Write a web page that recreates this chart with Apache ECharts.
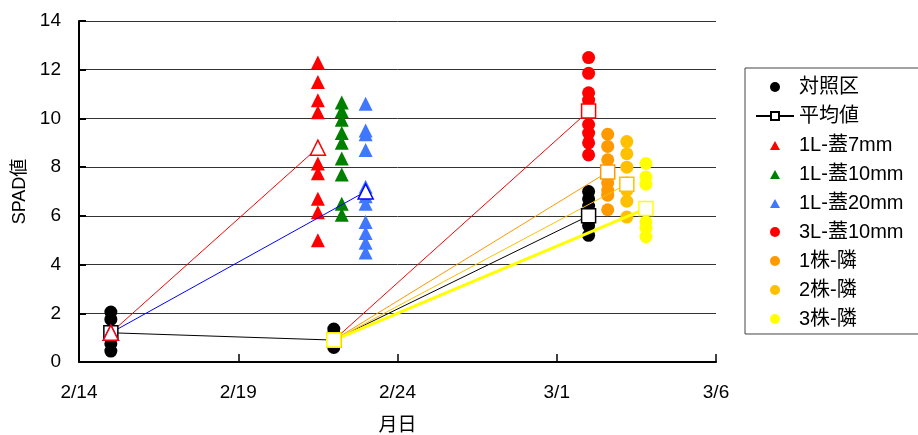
<!DOCTYPE html>
<html><head><meta charset="utf-8">
<script src="https://cdn.jsdelivr.net/npm/echarts@6/dist/echarts.min.js"></script>
<style>html,body{margin:0;padding:0;background:#fff}#c{width:918px;height:435px}</style>
</head><body><div id="c"></div>
<script>
// ---- data (x = days since 2/14) ----
const tickLabels = ['2/14', '2/19', '2/24', '3/1', '3/6'];
const controlDays = [1, 8, 16];
const controlValues = [
  [2.05, 1.75, 1.3, 1.1, 0.75, 0.45],
  [1.35, 1.2, 1.05, 0.85, 0.7, 0.6],
  [7.0, 6.7, 6.4, 6.0, 5.6, 5.2]
];
const meanDays = [1, 8, 16];
const meanValues = [1.2, 0.9, 6.0];

const tri7Day = 7.5;
const tri7Values = [12.3, 11.5, 10.75, 10.25, 8.15, 7.75, 6.7, 6.15, 5.0];
const tri7Mean = 8.8;
const tri10Day = 8.25;
const tri10Values = [10.65, 10.3, 9.95, 9.4, 9.0, 8.35, 7.7, 6.5, 6.05];
const tri20Day = 9.0;
const tri20Values = [10.6, 9.5, 9.35, 8.7, 7.2, 7.0, 6.8, 6.5, 5.75, 5.3, 4.9, 4.5];
const tri20Mean = 7.0;
const cir3LDay = 16;
const cir3LValues = [12.5, 11.85, 11.05, 10.75, 9.75, 9.4, 9.0, 8.5];
const cir3LMean = 10.3;
const kabu1Day = 16.6;
const kabu1Values = [9.35, 8.85, 8.3, 7.8, 7.35, 7.05, 6.85, 6.25];
const kabu1Mean = 7.8;
const kabu2Day = 17.2;
const kabu2Values = [9.05, 8.55, 8.0, 7.35, 7.05, 6.6, 5.95];
const kabu2Mean = 7.3;
const kabu3Day = 17.8;
const kabu3Values = [8.15, 7.6, 7.3, 5.75, 5.5, 5.15];
const kabu3Mean = 6.3;

const startDay = meanDays[0], startVal = meanValues[0];
const midDay = meanDays[1], midVal = meanValues[1];

function pts(day, vals) { return vals.map(v => [day, v]); }
const ctrlData = [];
controlDays.forEach((d, i) => controlValues[i].forEach(v => ctrlData.push([d, v])));

const FONT = '"Liberation Sans", "Noto Sans CJK JP", sans-serif';
const C = { red: '#ff0000', green: '#008000', blue: '#3f78ff', orange: '#ff9900', gold: '#ffc000', yellow: '#ffff00' };
const TRI_ICON = 'path://M0,0M38,10M14,10L19,1L24,10Z';

function scatter(name, data, color, symbol) {
  return { name, type: 'scatter', data, symbol, symbolSize: symbol === 'triangle' ? 14 : 13,
    itemStyle: { color, opacity: 1 }, z: 2, silent: true };
}
function meanLine(name, data, color, symbol, width) {
  return { name, type: 'line', data, symbol, symbolSize: symbol === 'triangle' ? 15 : 14,
    showSymbol: true, lineStyle: { color, width: width || 1 },
    itemStyle: { color: '#fff', borderColor: color, borderWidth: 1.5 }, z: 5, silent: true, animation: false };
}

const option = {
  animation: false,
  textStyle: { fontFamily: FONT },
  grid: { left: 79, right: 202, top: 21, bottom: 73, containLabel: false, outerBoundsMode: 'none' },
  xAxis: {
    type: 'value', min: 0, max: 20, interval: 5,
    axisLine: { lineStyle: { color: '#000', width: 2 } },
    axisTick: { inside: true, length: 8, lineStyle: { color: '#000', width: 1.5 } },
    splitLine: { show: false },
    axisLabel: { color: '#000', fontSize: 19, fontFamily: FONT, margin: 21,
      formatter: v => tickLabels[Math.round(v / 5)] },
    name: '月日', nameLocation: 'middle', nameGap: 54,
    nameTextStyle: { color: '#000', fontSize: 19, fontFamily: FONT }
  },
  yAxis: {
    type: 'value', min: 0, max: 14, interval: 2,
    axisLine: { show: true, lineStyle: { color: '#000', width: 2 } },
    axisTick: { show: true, inside: true, length: 7, lineStyle: { color: '#000', width: 2 } },
    splitLine: { show: true, lineStyle: { color: '#333', width: 1 } },
    axisLabel: { color: '#000', fontSize: 19, fontFamily: FONT, margin: 18 },
    name: 'SPAD値', nameLocation: 'middle', nameGap: 45,
    nameTextStyle: { color: '#000', fontSize: 18, fontFamily: FONT }
  },
  legend: {
    orient: 'vertical', left: 745, top: 68,
    padding: [9, 18, 5, 10], itemGap: 9, itemWidth: 38, itemHeight: 10,
    borderColor: '#444', borderWidth: 1, backgroundColor: '#fff',
    textStyle: { color: '#000', fontSize: 20, fontFamily: FONT },
    data: [
      { name: '対照区', icon: 'circle' },
      { name: '平均値' },
      { name: '1L-蓋7mm', icon: TRI_ICON },
      { name: '1L-蓋10mm', icon: TRI_ICON },
      { name: '1L-蓋20mm', icon: TRI_ICON },
      { name: '3L-蓋10mm', icon: 'circle' },
      { name: '1株-隣', icon: 'circle' },
      { name: '2株-隣', icon: 'circle' },
      { name: '3株-隣', icon: 'circle' }
    ]
  },
  series: [
    scatter('対照区', ctrlData, '#000', 'circle'),
    scatter('1L-蓋7mm', pts(tri7Day, tri7Values), C.red, 'triangle'),
    scatter('1L-蓋10mm', pts(tri10Day, tri10Values), C.green, 'triangle'),
    scatter('1L-蓋20mm', pts(tri20Day, tri20Values), C.blue, 'triangle'),
    scatter('3L-蓋10mm', pts(cir3LDay, cir3LValues), C.red, 'circle'),
    scatter('1株-隣', pts(kabu1Day, kabu1Values), C.orange, 'circle'),
    scatter('2株-隣', pts(kabu2Day, kabu2Values), C.gold, 'circle'),
    scatter('3株-隣', pts(kabu3Day, kabu3Values), C.yellow, 'circle'),
    meanLine('平均値', meanDays.map((d, i) => [d, meanValues[i]]), '#000', 'rect'),
    meanLine('m20', [[startDay, startVal], [tri20Day, tri20Mean]], '#0000ff', 'triangle'),
    meanLine('m7', [[startDay, startVal], [tri7Day, tri7Mean]], C.red, 'triangle'),
    meanLine('m3L', [[midDay, midVal], [cir3LDay, cir3LMean]], C.red, 'rect'),
    meanLine('mk1', [[midDay, midVal], [kabu1Day, kabu1Mean]], C.orange, 'rect'),
    meanLine('mk2', [[midDay, midVal], [kabu2Day, kabu2Mean]], C.gold, 'rect'),
    meanLine('mk3', [[midDay, midVal], [kabu3Day, kabu3Mean]], C.yellow, 'rect', 3)
  ]
};
echarts.init(document.getElementById('c')).setOption(option);
</script></body></html>
